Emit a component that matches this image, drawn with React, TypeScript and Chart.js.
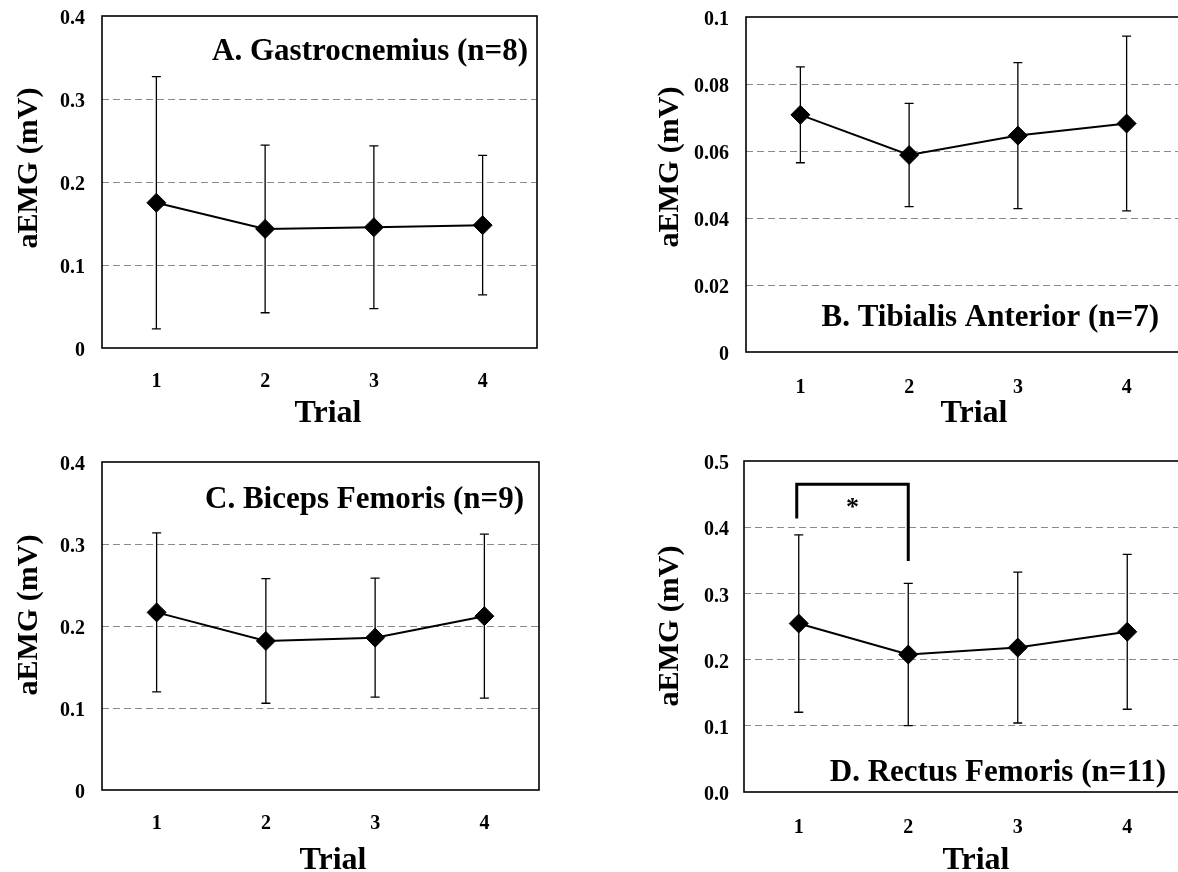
import React, { useEffect, useRef } from "react";
import { Chart, registerables } from "chart.js";

Chart.register(...registerables);

// ---------- data ----------
const trials = ["1", "2", "3", "4"];

const gastrocMean = [0.175, 0.1435, 0.1455, 0.148];
const gastrocSD = [0.152, 0.101, 0.098, 0.084];

const tibialisMean = [0.0708, 0.0588, 0.0646, 0.0682];
const tibialisSD = [0.0143, 0.0154, 0.0218, 0.0261];

const bicepsMean = [0.2166, 0.1818, 0.1858, 0.212];
const bicepsSD = [0.097, 0.076, 0.0725, 0.1];

const rectusMean = [0.2545, 0.2077, 0.2182, 0.242];
const rectusSD = [0.134, 0.1075, 0.114, 0.117];

const ticksGastroc = ["0", "0.1", "0.2", "0.3", "0.4"];
const ticksTibialis = ["0", "0.02", "0.04", "0.06", "0.08", "0.1"];
const ticksBiceps = ["0", "0.1", "0.2", "0.3", "0.4"];
const ticksRectus = ["0.0", "0.1", "0.2", "0.3", "0.4", "0.5"];

const titleGastroc = "A. Gastrocnemius (n=8)";
const titleTibialis = "B. Tibialis Anterior (n=7)";
const titleBiceps = "C. Biceps Femoris (n=9)";
const titleRectus = "D. Rectus Femoris (n=11)";

const yTitle = "aEMG (mV)";
const xTitle = "Trial";

// significance bracket (panel D): trial indices and y values
const sigPair = [0, 1];
const sigBracketTop = 0.465;
const sigLeftEnd = 0.413;
const sigRightEnd = 0.349;
const sigStarY = 0.434;
const sigMark = "*";

// ---------- layout ----------
const FONT = "'Liberation Serif', 'Times New Roman', Times, serif";

type Panel = {
  key: string;
  left: number;
  top: number;
  width: number;
  height: number;
  area: { l: number; t: number; r: number; b: number };
  means: number[];
  sds: number[];
  tickLabels: string[];
  step: number;
  title: string;
  titleRight: number;
  titleBase: number;
  yTitleX: number;
  yTitleY: number;
  xTitleX: number;
  xTitleBase: number;
  xTickPad: number;
  yTickPad: number;
  bracket: boolean;
};

const panels: Panel[] = [
  {
    key: "A",
    left: 0, top: 0, width: 570, height: 436,
    area: { l: 102, t: 16, r: 537, b: 348 },
    means: gastrocMean, sds: gastrocSD, tickLabels: ticksGastroc, step: 0.1,
    title: titleGastroc, titleRight: 528, titleBase: 60,
    yTitleX: 29, yTitleY: 168, xTitleX: 328, xTitleBase: 422,
    xTickPad: 22, yTickPad: 17, bracket: false,
  },
  {
    key: "B",
    left: 589, top: 0, width: 610, height: 436,
    area: { l: 746, t: 17, r: 1181, b: 352 },
    means: tibialisMean, sds: tibialisSD, tickLabels: ticksTibialis, step: 0.02,
    title: titleTibialis, titleRight: 1159, titleBase: 326,
    yTitleX: 670, yTitleY: 167, xTitleX: 974, xTitleBase: 422,
    xTickPad: 24, yTickPad: 17, bracket: false,
  },
  {
    key: "C",
    left: 0, top: 436, width: 570, height: 436,
    area: { l: 102, t: 462, r: 539, b: 790 },
    means: bicepsMean, sds: bicepsSD, tickLabels: ticksBiceps, step: 0.1,
    title: titleBiceps, titleRight: 524, titleBase: 508,
    yTitleX: 29, yTitleY: 615, xTitleX: 333, xTitleBase: 869,
    xTickPad: 22, yTickPad: 17, bracket: false,
  },
  {
    key: "D",
    left: 589, top: 436, width: 610, height: 436,
    area: { l: 744, t: 461, r: 1182, b: 792 },
    means: rectusMean, sds: rectusSD, tickLabels: ticksRectus, step: 0.1,
    title: titleRectus, titleRight: 1166, titleBase: 781,
    yTitleX: 670, yTitleY: 626, xTitleX: 976, xTitleBase: 869,
    xTickPad: 24, yTickPad: 15, bracket: true,
  },
];

function zeroPad(s: any) {
  s.paddingTop = 0;
  s.paddingBottom = 0;
  s.paddingLeft = 0;
  s.paddingRight = 0;
}

function PanelChart({ p }: { p: Panel }) {
  const ref = useRef<HTMLCanvasElement | null>(null);

  useEffect(() => {
    if (!ref.current) return;
    const last = p.tickLabels.length - 1;
    const maxV = parseFloat(p.tickLabels[last]);

    const deco = {
      id: "deco" + p.key,
      beforeDatasetsDraw(chart: any) {
        const ctx = chart.ctx;
        const xs = chart.scales.x;
        const ys = chart.scales.y;
        ctx.save();
        ctx.strokeStyle = "#000";
        ctx.lineWidth = 1.3;
        p.means.forEach((m, i) => {
          const x = xs.getPixelForValue(i);
          const yt = ys.getPixelForValue(m + p.sds[i]);
          const yb = ys.getPixelForValue(m - p.sds[i]);
          ctx.beginPath();
          ctx.moveTo(x, yt);
          ctx.lineTo(x, yb);
          ctx.moveTo(x - 4.5, yt);
          ctx.lineTo(x + 4.5, yt);
          ctx.moveTo(x - 4.5, yb);
          ctx.lineTo(x + 4.5, yb);
          ctx.stroke();
        });
        ctx.restore();
      },
      afterDraw(chart: any) {
        const ctx = chart.ctx;
        const a = chart.chartArea;
        const xs = chart.scales.x;
        const ys = chart.scales.y;
        ctx.save();
        // frame
        ctx.strokeStyle = "#000";
        ctx.lineWidth = 1.6;
        ctx.strokeRect(a.left, a.top, a.right - a.left, a.bottom - a.top);

        ctx.fillStyle = "#000";
        // panel title
        ctx.font = `bold 31px ${FONT}`;
        ctx.textAlign = "right";
        ctx.textBaseline = "alphabetic";
        ctx.fillText(p.title, p.titleRight - p.left, p.titleBase - p.top);

        // x title
        ctx.font = `bold 32px ${FONT}`;
        ctx.textAlign = "center";
        ctx.fillText(xTitle, p.xTitleX - p.left, p.xTitleBase - p.top);

        // y title
        ctx.save();
        ctx.translate(p.yTitleX - p.left, p.yTitleY - p.top);
        ctx.rotate(-Math.PI / 2);
        ctx.font = `bold 30px ${FONT}`;
        ctx.textAlign = "center";
        ctx.textBaseline = "middle";
        ctx.fillText(yTitle, 0, 0);
        ctx.restore();

        if (p.bracket) {
          const x1 = xs.getPixelForValue(sigPair[0]) - 2;
          const x2 = xs.getPixelForValue(sigPair[1]);
          ctx.lineWidth = 3;
          ctx.lineCap = "butt";
          ctx.lineJoin = "miter";
          ctx.beginPath();
          ctx.moveTo(x1, ys.getPixelForValue(sigLeftEnd));
          ctx.lineTo(x1, ys.getPixelForValue(sigBracketTop));
          ctx.lineTo(x2, ys.getPixelForValue(sigBracketTop));
          ctx.lineTo(x2, ys.getPixelForValue(sigRightEnd));
          ctx.stroke();
          ctx.font = `bold 26px ${FONT}`;
          ctx.textAlign = "center";
          ctx.textBaseline = "middle";
          ctx.fillText(sigMark, (x1 + x2) / 2, ys.getPixelForValue(sigStarY) + 4);
        }
        ctx.restore();
      },
    };

    const chart = new Chart(ref.current, {
      type: "line",
      data: {
        labels: trials,
        datasets: [
          {
            data: p.means,
            borderColor: "#000",
            borderWidth: 2,
            backgroundColor: "#000",
            pointStyle: "rectRot",
            pointRadius: 9.5,
            pointBorderWidth: 1,
            pointBorderColor: "#000",
            pointBackgroundColor: "#000",
            tension: 0,
            clip: false as any,
          },
        ],
      },
      options: {
        animation: false,
        responsive: false,
        devicePixelRatio: 1,
        events: [],
        layout: {
          padding: {
            left: 0,
            bottom: 0,
            top: p.area.t - p.top,
            right: p.left + p.width - p.area.r,
          },
        },
        plugins: {
          legend: { display: false },
          tooltip: { enabled: false },
          title: { display: false },
        },
        scales: {
          x: {
            type: "category",
            offset: true,
            grid: { display: false, drawTicks: false },
            border: { display: false },
            ticks: {
              color: "#000",
              padding: p.xTickPad,
              font: { family: FONT, size: 20, weight: "bold" },
              maxRotation: 0,
            },
            afterFit: (s: any) => {
              s.height = p.top + p.height - p.area.b;
              zeroPad(s);
            },
          },
          y: {
            min: 0,
            max: maxV,
            grid: {
              drawTicks: false,
              lineWidth: 1,
              color: (c: any) =>
                c.index === 0 || c.index === last ? "rgba(0,0,0,0)" : "#8a8a8a",
            },
            border: { display: false, dash: [7, 4] },
            ticks: {
              stepSize: p.step,
              color: "#000",
              padding: p.yTickPad,
              labelOffset: 3,
              font: { family: FONT, size: 20, weight: "bold" },
              callback: (_v: any, i: number) => p.tickLabels[i],
            },
            afterFit: (s: any) => {
              s.width = p.area.l - p.left;
              zeroPad(s);
            },
          },
        },
      } as any,
      plugins: [deco],
    });
    return () => chart.destroy();
  }, [p]);

  return (
    <canvas
      ref={ref}
      width={p.width}
      height={p.height}
      style={{
        position: "absolute",
        left: p.left,
        top: p.top,
        width: p.width,
        height: p.height,
      }}
    />
  );
}

export default function App() {
  return (
    <div
      style={{
        position: "fixed",
        left: 0,
        top: 0,
        width: 1178,
        height: 872,
        overflow: "hidden",
        background: "#fff",
      }}
    >
      {panels.map((p) => (
        <PanelChart key={p.key} p={p} />
      ))}
    </div>
  );
}
